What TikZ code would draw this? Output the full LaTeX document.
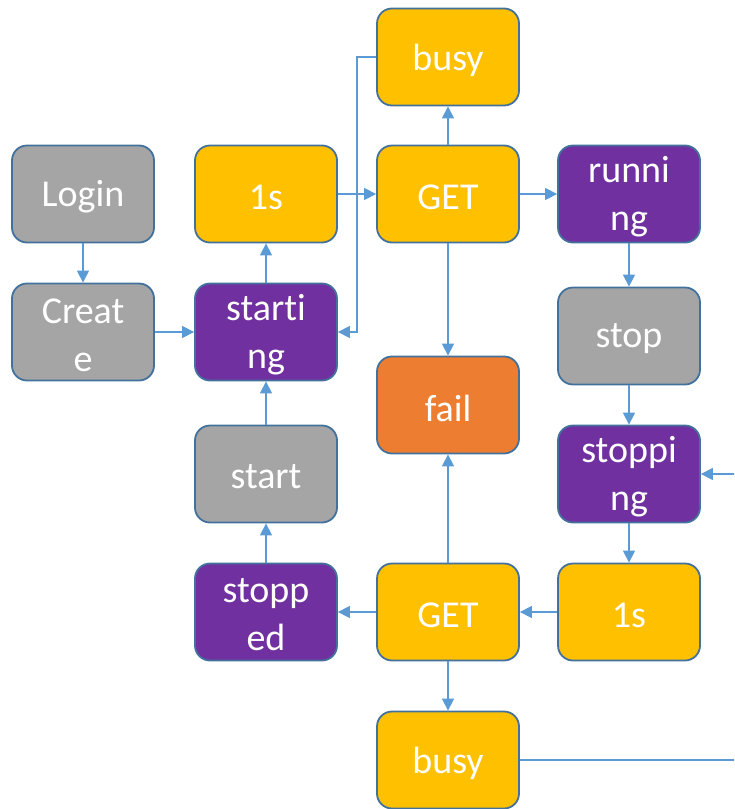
\documentclass[tikz,border=0pt]{standalone}
\usepackage{fontspec}
\setmainfont[RawFeature={-liga;-clig;-calt;-dlig}]{Carlito}
\usetikzlibrary{arrows.meta}
\definecolor{cgray}{HTML}{A5A5A5}
\definecolor{cgold}{HTML}{FFC000}
\definecolor{cpurple}{HTML}{7030A0}
\definecolor{corange}{HTML}{ED7D31}
\definecolor{cedge}{HTML}{41719C}
\definecolor{cline}{HTML}{5B9BD5}
\tikzset{
  box/.style={draw=cedge, line width=1.8pt, rounded corners=15pt,
    minimum width=142pt, minimum height=97pt, inner sep=0pt,
    label={[lbl]center:#1}},
  lbl/.style={text=white, align=center, yshift=-3pt,
    font=\fontsize{38}{48}\selectfont},
  graybox/.style={box={#1}, fill=cgray},
  goldbox/.style={box={#1}, fill=cgold},
  purplebox/.style={box={#1}, fill=cpurple},
  orangebox/.style={box={#1}, fill=corange},
  link/.style={draw=cline, line width=1.4pt,
    -{Triangle[length=12pt,width=12pt]}},
}
\begin{document}
\begin{tikzpicture}[x=1pt,y=-1pt]
\useasboundingbox (0,0) rectangle (734,809);

% left column
\node[graybox={Login}]        (login)  at (83,194)  {};
\node[graybox={Creat\\e}]     (create) at (83,332)  {};

% second column
\node[goldbox={1s}]           (wait1)    at (266,194) {};
\node[purplebox={start\kern0pt i\\ng}] (starting) at (266,332) {};
\node[graybox={start}]        (start)    at (266,474) {};
\node[purplebox={stopp\\ed}]  (stopped)  at (266,612) {};

% middle column
\node[goldbox={busy}]         (busy1) at (448,57)  {};
\node[goldbox={GET}]          (get1)  at (448,194) {};
\node[orangebox={fail}]       (fail)  at (448,405) {};
\node[goldbox={GET}]          (get2)  at (448,612) {};
\node[goldbox={busy}]         (busy2) at (448,760) {};

% right column
\node[purplebox={runni\\ng}]  (running)  at (629,194) {};
\node[graybox={stop}]         (stop)     at (629,336) {};
\node[purplebox={stoppi\\ng}] (stopping) at (629,474) {};
\node[goldbox={1s}]           (wait2)    at (629,612) {};

% start-up path
\draw[link] (login) -- (create);
\draw[link] (create) -- (starting);
\draw[link] (starting) -- (wait1);
\draw[link] (wait1) -- (get1);
\draw[link] (get1) -- (busy1);
\draw[link] (busy1.west) -| (357,332) -- (starting.east);
\draw[link] (get1) -- (running);
\draw[link] (get1) -- (fail);

% shut-down path
\draw[link] (running) -- (stop);
\draw[link] (stop) -- (stopping);
\draw[link] (stopping) -- (wait2);
\draw[link] (wait2) -- (get2);
\draw[link] (get2) -- (stopped);
\draw[link] (get2) -- (fail);
\draw[link] (get2) -- (busy2);
\draw[link] (stopped) -- (start);
\draw[link] (start) -- (starting);

% retry loop running past the right edge
\coordinate (loopB) at (760,760);
\coordinate (loopT) at (760,474);
\begin{scope}
  \clip (0,0) rectangle (734,809);
  \draw[link] (busy2.east) -- (loopB) -- (loopT) -- (stopping.east);
\end{scope}
\end{tikzpicture}
\end{document}
